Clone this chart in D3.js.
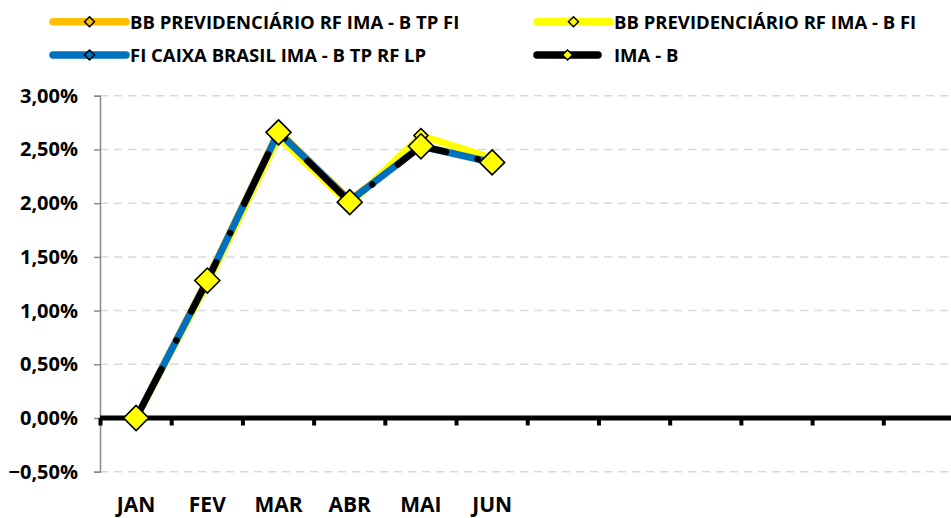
<!DOCTYPE html>
<html>
<head>
<meta charset="utf-8">
<script src="https://cdn.jsdelivr.net/npm/d3@7"></script>
<style>
  body { margin: 0; background: #fff; }
  svg { display: block; font-family: "Open Sans", sans-serif; font-weight: 700; }
</style>
</head>
<body>
<svg id="canvas" width="951" height="518"></svg>
<script>
let monthLabels = ["JAN", "FEV", "MAR", "ABR", "MAI", "JUN", "", "", "", "", "", ""];
let yTicks = [-0.5, 0, 0.5, 1, 1.5, 2, 2.5, 3];

let bbTpFi = [0, 1.29, 2.67, 2.03, 2.53, 2.39];
let bbFi = [0, 1.25, 2.61, 1.99, 2.63, 2.42];
let caixa = [0, 1.28, 2.66, 2.02, 2.53, 2.38];
let imaB = [0, 1.28, 2.66, 2.01, 2.53, 2.38];

let seriesNames = [
  "BB PREVIDENCIÁRIO RF IMA - B TP FI",
  "BB PREVIDENCIÁRIO RF IMA - B FI",
  "FI CAIXA BRASIL IMA - B TP RF LP",
  "IMA - B"
];

let series = [
  { name: seriesNames[0], values: bbTpFi, color: "#FFC000", width: 7, marker: 7, markerFill: "#FFC000" },
  { name: seriesNames[1], values: bbFi, color: "#FFFF00", width: 7, marker: 7, markerFill: "#FFFF00" },
  { name: seriesNames[2], values: caixa, color: "#0070C0", width: 7, marker: 7, markerFill: "#0070C0" },
  { name: seriesNames[3], values: imaB, color: "#000000", width: 6.5, marker: 12.5, markerFill: "#FFFF00", dash: "55 32.5 0.01 32.5" }
];

let canvas = d3.select("#canvas");

let x = d3.scaleBand().domain(d3.range(monthLabels.length)).range([100.5, 955]);
let y = d3.scaleLinear().domain([-0.5, 3]).range([471.7, 95.8]);

let locale = d3.formatLocale({ decimal: ",", thousands: ".", grouping: [3], currency: ["R$", ""] });
let fmt = locale.format(".2%");

let diamond = (h) => "M0," + -h + "L" + h + ",0L0," + h + "L" + -h + ",0Z";

// gridlines
canvas.append("g")
  .selectAll("line")
  .data(yTicks.filter((d) => d !== 0))
  .enter()
  .append("line")
  .attr("x1", 100)
  .attr("x2", 951)
  .attr("y1", (d) => y(d))
  .attr("y2", (d) => y(d))
  .attr("stroke", "#d9d9d9")
  .attr("stroke-width", 1.5)
  .attr("stroke-dasharray", "8.3 5.7");

// y axis (values are already in percent)
let yAxis = canvas.append("g")
  .attr("transform", "translate(100,0)")
  .call(d3.axisLeft(y).tickValues(yTicks).tickSize(6).tickPadding(0).tickFormat((d) => fmt(d / 100)));
yAxis.select(".domain").attr("stroke", "#898989").attr("stroke-width", 1.5);
yAxis.selectAll(".tick line").attr("stroke", "#898989").attr("stroke-width", 1.5);
yAxis.selectAll(".tick text")
  .attr("x", -22)
  .attr("fill", "#000")
  .style("font-size", "20px")
  .style("font-family", "'Open Sans', sans-serif")
  .style("font-weight", 700);

// zero line with category ticks
canvas.append("line")
  .attr("x1", 100)
  .attr("x2", 951)
  .attr("y1", y(0))
  .attr("y2", y(0))
  .attr("stroke", "#000")
  .attr("stroke-width", 5);

canvas.append("g")
  .selectAll("line")
  .data(d3.range(monthLabels.length + 1))
  .enter()
  .append("line")
  .attr("x1", (d) => 100.5 + d * x.bandwidth())
  .attr("x2", (d) => 100.5 + d * x.bandwidth())
  .attr("y1", y(0))
  .attr("y2", y(0) + 7.5)
  .attr("stroke", "#000")
  .attr("stroke-width", 4);

// x labels
canvas.append("g")
  .selectAll("text")
  .data(monthLabels)
  .enter()
  .append("text")
  .attr("x", (d, i) => x(i) + x.bandwidth() / 2)
  .attr("y", 512)
  .attr("text-anchor", "middle")
  .style("font-size", "21px")
  .text((d) => d);

// lines
let line = d3.line()
  .x((d, i) => x(i) + x.bandwidth() / 2)
  .y((d) => y(d));

series.forEach((s) => {
  canvas.append("path")
    .attr("d", line(s.values))
    .attr("fill", "none")
    .attr("stroke", s.color)
    .attr("stroke-width", s.width)
    .attr("stroke-linejoin", "round")
    .attr("stroke-linecap", s.dash ? "round" : "butt")
    .attr("stroke-dasharray", s.dash || null);
});

series.forEach((s) => {
  canvas.append("g")
    .selectAll("path")
    .data(s.values)
    .enter()
    .append("path")
    .attr("d", diamond(s.marker))
    .attr("transform", (d, i) => "translate(" + (x(i) + x.bandwidth() / 2) + "," + y(d) + ")")
    .attr("fill", s.markerFill)
    .attr("stroke", "#000")
    .attr("stroke-width", 1.6);
});

// legend
let legendPos = [
  { lx: 53, len: 73, tx: 130, cy: 21.7 },
  { lx: 537, len: 73, tx: 614, cy: 21.7 },
  { lx: 53, len: 73, tx: 130, cy: 55 },
  { lx: 537, len: 61, tx: 614, cy: 55 }
];

let legend = canvas.append("g")
  .selectAll("g")
  .data(series)
  .enter()
  .append("g")
  .attr("transform", (d, i) => "translate(0," + legendPos[i].cy + ")");

legend.append("line")
  .attr("x1", (d, i) => legendPos[i].lx)
  .attr("x2", (d, i) => legendPos[i].lx + legendPos[i].len)
  .attr("stroke", (d) => d.color)
  .attr("stroke-width", 7.5)
  .attr("stroke-linecap", "round");

legend.append("path")
  .attr("d", diamond(5))
  .attr("transform", (d, i) => "translate(" + (legendPos[i].lx + legendPos[i].len / 2) + ",0)")
  .attr("fill", (d) => d.markerFill)
  .attr("stroke", "#000")
  .attr("stroke-width", 1.5);

legend.append("text")
  .attr("x", (d, i) => legendPos[i].tx)
  .attr("y", 7)
  .style("font-size", "18.5px")
  .text((d) => d.name);
</script>
</body>
</html>
